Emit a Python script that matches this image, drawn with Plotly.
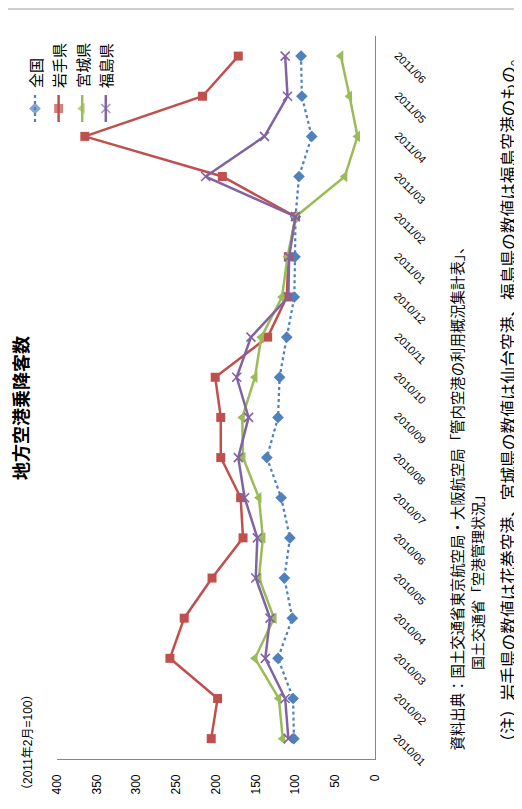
import plotly.graph_objects as go

W, H = 522, 809
OFF = 8  # default page body margin
FW, FH = W - OFF, H - OFF

months = ["2010/01", "2010/02", "2010/03", "2010/04", "2010/05", "2010/06",
          "2010/07", "2010/08", "2010/09", "2010/10", "2010/11", "2010/12",
          "2011/01", "2011/02", "2011/03", "2011/04", "2011/05", "2011/06"]

zenkoku = [102, 103, 122, 104, 114, 107, 118, 136, 122, 120, 111, 101.5,
           100.6, 100, 95.6, 79.6, 92, 93]
iwate = [206, 198, 258, 240, 205, 166, 169, 194, 194, 201, 135, 111,
         109, 100, 192, 365, 217, 172]
miyagi = [116, 121, 151, 127, 146, 141, 146, 166, 167, 151, 143, 117,
          110, 100, 38, 22, 32, 43]
fukushima = [109, 113, 138, 132, 150, 148, 164, 172, 159, 174, 156, 109,
             108, 100, 213, 139, 110, 113]

series_names = ["全国", "岩手県", "宮城県", "福島県"]
series_values = [zenkoku, iwate, miyagi, fukushima]
value_ticks = [0, 50, 100, 150, 200, 250, 300, 350, 400]

colors = ["#4F81BD", "#C0504D", "#9BBB59", "#8064A2"]
symbols = ["diamond", "square", "triangle-left", "x-thin"]
msizes = [9, 9, 10, 9]
dashes = ["dot", "solid", "solid", "solid"]
lwidths = [2.25, 2.5, 2.5, 2.5]

TXT = "Liberation Sans, Noto Sans CJK JP, sans-serif"
CJK = "Noto Sans CJK JP, sans-serif"


def px(x):
    return (x - OFF) / FW


def py(y):
    return 1 - (y - OFF) / FH


# plot area in screen pixels
L, R, T, B = 57, 375, 36, 758.7

fig = go.Figure()

for name, vals, c, s, ms, d, lw in zip(series_names, series_values, colors,
                                       symbols, msizes, dashes, lwidths):
    fig.add_trace(go.Scatter(
        x=vals, y=months, name=name, mode="lines+markers",
        line=dict(color=c, width=lw, dash=d),
        marker=dict(symbol=s, size=ms, color=c,
                    line=dict(color=c, width=1.6 if s == "x-thin" else 0)),
        xaxis="x", yaxis="y", cliponaxis=False, showlegend=False,
    ))

# legend keys (rotated legend drawn on an auxiliary axis pair)
for i, (name, c, s, ms, d, lw) in enumerate(zip(series_names, colors, symbols,
                                                msizes, dashes, lwidths)):
    fig.add_trace(go.Scatter(
        x=[i, i, i], y=[0, 1, 2], mode="lines+markers",
        line=dict(color=c, width=lw, dash=d),
        marker=dict(symbol=s, size=[0, ms, 0], color=c,
                    line=dict(color=c, width=1.6 if s == "x-thin" else 0)),
        xaxis="x2", yaxis="y2", cliponaxis=False, showlegend=False,
        hoverinfo="skip",
    ))

annotations = []
for i, name in enumerate(series_names):
    annotations.append(dict(
        text=name, x=i, xref="x2", y=py(90), yref="paper",
        xanchor="center", yanchor="bottom", textangle=-90, showarrow=False,
        font=dict(family=CJK, size=15, color="#000000")))

# rotated category tick labels of the date axis
for m in months:
    annotations.append(dict(
        text=m, x=px(410), xref="paper", y=m, yref="y", yshift=-11,
        xanchor="center", yanchor="middle", textangle=45, showarrow=False,
        font=dict(family=TXT, size=11, color="#000000")))

annotations += [
    dict(text="<b>地方空港乗降客数</b>", x=px(20), y=py(408), xref="paper", yref="paper",
         xanchor="center", yanchor="middle", textangle=-90, showarrow=False,
         font=dict(family=CJK, size=18, color="#000000")),
    dict(text="（2011年2月=100）", x=px(28), y=py(742), xref="paper", yref="paper",
         xanchor="center", yanchor="middle", textangle=-90, showarrow=False,
         font=dict(family=TXT, size=12, color="#000000")),
    dict(text="資料出典：国土交通省東京航空局・大阪航空局「管内空港の利用概況集計表」、",
         x=px(456), y=py(753), xref="paper", yref="paper",
         xanchor="center", yanchor="bottom", textangle=-90, showarrow=False,
         font=dict(family=CJK, size=14.4, color="#000000")),
    dict(text="国土交通省「空港管理状況」",
         x=px(477), y=py(672), xref="paper", yref="paper",
         xanchor="center", yanchor="bottom", textangle=-90, showarrow=False,
         font=dict(family=CJK, size=14, color="#000000")),
    dict(text="（注）岩手県の数値は花巻空港、宮城県の数値は仙台空港、福島県の数値は福島空港のもの。",
         x=px(507), y=py(753), xref="paper", yref="paper",
         xanchor="center", yanchor="bottom", textangle=-90, showarrow=False,
         font=dict(family=CJK, size=16.7, color="#000000")),
]

shapes = [dict(type="line", xref="paper", yref="paper", x0=0, x1=1,
               y0=py(9), y1=py(9), line=dict(color="#BFBFBF", width=1.5))]

fig.update_layout(
    width=FW, height=FH,
    margin=dict(l=0, r=0, t=0, b=0, autoexpand=False),
    paper_bgcolor="white", plot_bgcolor="white",
    showlegend=False,
    annotations=annotations, shapes=shapes,
    xaxis=dict(domain=[px(L), px(R)], range=[400, 0], tickvals=value_ticks,
               tickangle=-90, showline=True, linecolor="#868686", linewidth=1,
               showgrid=False, zeroline=False, ticks="", ticklabelstandoff=10,
               tickfont=dict(family=TXT, size=12, color="#000000"),
               anchor="y", automargin=False, fixedrange=True),
    yaxis=dict(domain=[py(B), py(T)], type="category", categoryarray=months,
               categoryorder="array", range=[-0.5, 17.5], side="right",
               showline=True, linecolor="#868686", linewidth=1,
               showgrid=False, zeroline=False, ticks="", showticklabels=False,
               anchor="x", automargin=False, fixedrange=True),
    xaxis2=dict(domain=[px(35 - 11.8), px(35 + 23.6 * 3.5)], range=[-0.5, 3.5],
                visible=False, anchor="y2", fixedrange=True),
    yaxis2=dict(domain=[py(122), py(95)], range=[0, 2], visible=False,
                anchor="x2", fixedrange=True),
)

fig.write_html("out.html")
